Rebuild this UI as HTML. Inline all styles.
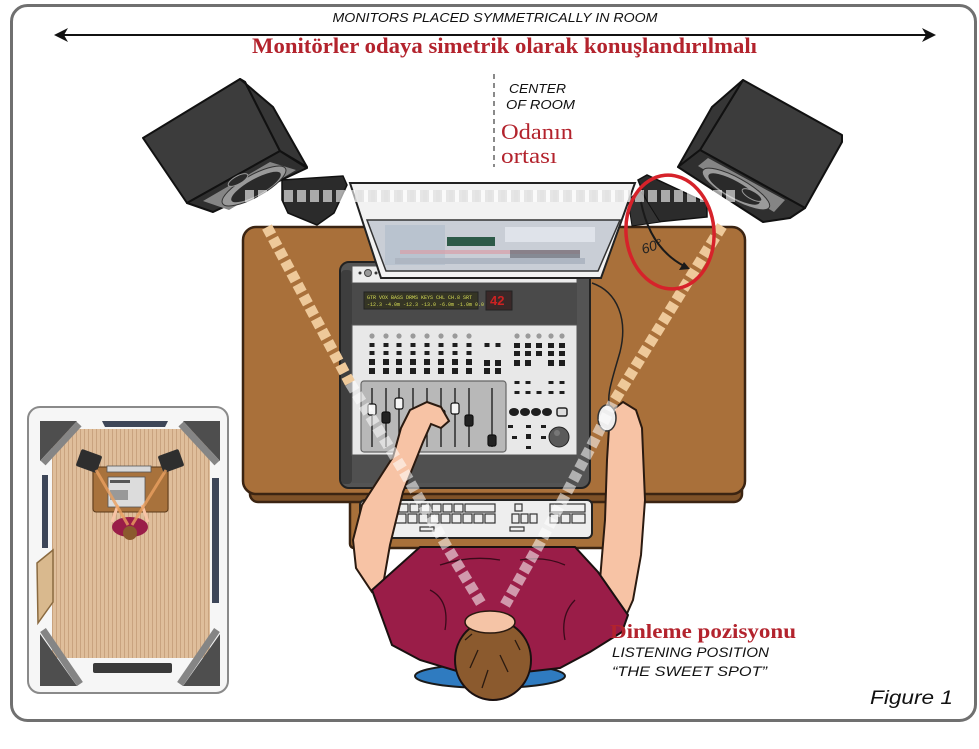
<!DOCTYPE html>
<html><head><meta charset="utf-8"><style>
html,body{margin:0;padding:0;background:#fff;}
svg{display:block;}
</style></head><body>
<svg width="979" height="749" viewBox="0 0 979 749" xmlns="http://www.w3.org/2000/svg">
<defs>
<pattern id="wood" width="4" height="12" patternUnits="userSpaceOnUse"><rect width="4" height="12" fill="#dfbe9b"/><rect width="1" height="12" fill="#c9a37f"/></pattern>
</defs>
<!-- frame -->
<rect x="11.5" y="5.5" width="964" height="715" rx="16" fill="#fff" stroke="#707070" stroke-width="3"/>

<!-- top header -->
<text x="495" y="22" text-anchor="middle" font-family="Liberation Sans, sans-serif" font-style="italic" font-size="13" textLength="325" lengthAdjust="spacingAndGlyphs" fill="#111">MONITORS PLACED SYMMETRICALLY IN ROOM</text>
<line x1="62" y1="35" x2="928" y2="35" stroke="#111" stroke-width="2"/>
<polygon points="54,35 68,28 64,35 68,42" fill="#111"/>
<polygon points="936,35 922,28 926,35 922,42" fill="#111"/>
<text x="252" y="53" font-family="Liberation Serif, serif" font-weight="bold" font-size="22" textLength="505" lengthAdjust="spacingAndGlyphs" fill="#b3232d">Monitörler odaya simetrik olarak konuşlandırılmalı</text>

<!-- center of room -->
<line x1="494" y1="74" x2="494" y2="167" stroke="#8a8a8a" stroke-width="2" stroke-dasharray="5 4"/>
<text x="509" y="93" font-family="Liberation Sans, sans-serif" font-style="italic" font-size="13" textLength="57" lengthAdjust="spacingAndGlyphs" fill="#111">CENTER</text>
<text x="506" y="109" font-family="Liberation Sans, sans-serif" font-style="italic" font-size="13" textLength="69" lengthAdjust="spacingAndGlyphs" fill="#111">OF ROOM</text>
<text x="501" y="139" font-family="Liberation Serif, serif" font-size="22" textLength="72" lengthAdjust="spacingAndGlyphs" fill="#b3232d">Odanın</text>
<text x="501" y="163" font-family="Liberation Serif, serif" font-size="22" textLength="56" lengthAdjust="spacingAndGlyphs" fill="#b3232d">ortası</text>

<!-- keyboard tray -->
<rect x="350" y="485" width="262" height="63" rx="4" fill="#a8703a" stroke="#3b2412" stroke-width="2.5"/>
<!-- desk -->
<rect x="250" y="480" width="492" height="22" rx="8" fill="#7f5228" stroke="#3b2412" stroke-width="2.5"/>
<rect x="243" y="227" width="502" height="267" rx="13" fill="#a9703a" stroke="#3b2412" stroke-width="2.5"/>

<!-- left speaker stand -->
<polygon points="282,180 343,176 347,185 334,213 317,225 288,213 282,200" fill="#2b2b2b" stroke="#111" stroke-width="1.5"/>
<!-- left speaker -->
<polygon points="143,138 240,79 245,82 280,151 187,203" fill="#3c3c3c" stroke="#111" stroke-width="2" stroke-linejoin="round"/>
<polygon points="240,79 273,107 307,167 280,151 245,82" fill="#363636" stroke="#111" stroke-width="2" stroke-linejoin="round"/>
<polygon points="187,203 280,151 307,168 213,212" fill="#2f2f2f" stroke="#111" stroke-width="2" stroke-linejoin="round"/>
<polygon points="203,201 270,162 296,170 229,210" fill="#858585"/>
<ellipse cx="254" cy="186" rx="36" ry="11" transform="rotate(-29 254 186)" fill="#9a9a9a" stroke="#333" stroke-width="1"/>
<ellipse cx="256" cy="187" rx="28" ry="8" transform="rotate(-29 256 187)" fill="#2a2a2a"/>
<ellipse cx="238" cy="180" rx="11" ry="4" transform="rotate(-29 238 180)" fill="#2a2a2a" stroke="#999" stroke-width="1"/>

<!-- right speaker stand -->
<polygon points="638,180 647,175 707,203 707,217 657,222 650,210" fill="#2b2b2b" stroke="#111" stroke-width="1.5"/>
<polygon points="628,200 640,190 660,222 632,226" fill="#333" stroke="#111" stroke-width="1"/>
<!-- right speaker -->
<polygon points="743,80 842,135 842,142 805,208 700,150" fill="#3c3c3c" stroke="#111" stroke-width="2" stroke-linejoin="round"/>
<polygon points="743,80 712,107 678,167 700,150" fill="#363636" stroke="#111" stroke-width="2" stroke-linejoin="round"/>
<polygon points="700,150 805,208 790,218 763,222 678,167" fill="#2f2f2f" stroke="#111" stroke-width="2" stroke-linejoin="round"/>
<polygon points="698,166 708,158 785,200 774,212" fill="#858585"/>
<ellipse cx="736" cy="189" rx="38" ry="11" transform="rotate(29 736 189)" fill="#9a9a9a" stroke="#333" stroke-width="1"/>
<ellipse cx="734" cy="189" rx="29" ry="8" transform="rotate(29 734 189)" fill="#2a2a2a"/>
<ellipse cx="752" cy="195" rx="11" ry="4" transform="rotate(29 752 195)" fill="#2a2a2a" stroke="#999" stroke-width="1"/>

<!-- console -->
<rect x="340" y="262" width="250" height="226" rx="9" fill="#545454" stroke="#222" stroke-width="2"/>
<rect x="341" y="270" width="11" height="214" rx="4" fill="#3e3e3e"/>
<rect x="352" y="266" width="225" height="17" fill="#ececec" stroke="#555" stroke-width="1"/>
<circle cx="368" cy="273" r="3.5" fill="#999" stroke="#444"/>
<circle cx="360" cy="273" r="1.5" fill="#333"/><circle cx="376" cy="273" r="1.5" fill="#333"/>
<rect x="352" y="283" width="225" height="42" fill="#4a4a4a"/>
<rect x="364" y="292" width="114" height="17" fill="#353525" stroke="#222"/>
<text x="367" y="299" font-family="Liberation Mono, monospace" font-size="5" fill="#d6dc55">GTR VOX BASS DRMS KEYS CHL CH.8 SRT</text>
<text x="367" y="306" font-family="Liberation Mono, monospace" font-size="5" fill="#d6dc55">-12.3 -4.0m -12.3 -13.0 -6.0m -1.0m 0.0 -4.0m</text>
<rect x="486" y="291" width="26" height="19" fill="#3a2828" stroke="#222"/>
<text x="490" y="305" font-family="Liberation Sans, sans-serif" font-weight="bold" font-size="13" fill="#c22">42</text>
<rect x="352" y="325" width="225" height="130" fill="#e8e8e8" stroke="#555" stroke-width="1"/>
<g fill="#9a9a9a">
<circle cx="372" cy="336" r="2.6"/><circle cx="386" cy="336" r="2.6"/><circle cx="399" cy="336" r="2.6"/><circle cx="413" cy="336" r="2.6"/><circle cx="427" cy="336" r="2.6"/><circle cx="441" cy="336" r="2.6"/><circle cx="455" cy="336" r="2.6"/><circle cx="469" cy="336" r="2.6"/>
<circle cx="517" cy="336" r="2.6"/><circle cx="528" cy="336" r="2.6"/><circle cx="539" cy="336" r="2.6"/><circle cx="551" cy="336" r="2.6"/><circle cx="562" cy="336" r="2.6"/>
</g>
<g fill="#1e1e1e">
<rect x="369.5" y="343" width="5" height="4"/><rect x="383.5" y="343" width="5" height="4"/><rect x="396.5" y="343" width="5" height="4"/><rect x="410.5" y="343" width="5" height="4"/><rect x="424.5" y="343" width="5" height="4"/><rect x="438.5" y="343" width="5" height="4"/><rect x="452.5" y="343" width="5" height="4"/><rect x="466.5" y="343" width="5" height="4"/>
<rect x="369.5" y="351" width="5" height="4"/><rect x="383.5" y="351" width="5" height="4"/><rect x="396.5" y="351" width="5" height="4"/><rect x="410.5" y="351" width="5" height="4"/><rect x="424.5" y="351" width="5" height="4"/><rect x="438.5" y="351" width="5" height="4"/><rect x="452.5" y="351" width="5" height="4"/><rect x="466.5" y="351" width="5" height="4"/>
<rect x="369" y="359" width="6" height="6"/><rect x="383" y="359" width="6" height="6"/><rect x="396" y="359" width="6" height="6"/><rect x="410" y="359" width="6" height="6"/><rect x="424" y="359" width="6" height="6"/><rect x="438" y="359" width="6" height="6"/><rect x="452" y="359" width="6" height="6"/><rect x="466" y="359" width="6" height="6"/>
<rect x="369" y="368" width="6" height="6"/><rect x="383" y="368" width="6" height="6"/><rect x="396" y="368" width="6" height="6"/><rect x="410" y="368" width="6" height="6"/><rect x="424" y="368" width="6" height="6"/><rect x="438" y="368" width="6" height="6"/><rect x="452" y="368" width="6" height="6"/><rect x="466" y="368" width="6" height="6"/>
<rect x="484.5" y="343" width="5" height="4"/><rect x="495.5" y="343" width="5" height="4"/>
<rect x="484" y="360" width="6" height="6"/><rect x="495" y="360" width="6" height="6"/><rect x="484" y="368" width="6" height="6"/><rect x="495" y="368" width="6" height="6"/>
<rect x="514" y="343" width="6" height="5"/><rect x="525" y="343" width="6" height="5"/><rect x="536" y="343" width="6" height="5"/><rect x="548" y="343" width="6" height="5"/><rect x="559" y="343" width="6" height="5"/>
<rect x="514" y="351" width="6" height="5"/><rect x="525" y="351" width="6" height="5"/><rect x="536" y="351" width="6" height="5"/><rect x="548" y="351" width="6" height="5"/><rect x="559" y="351" width="6" height="5"/>
<rect x="514" y="360" width="6" height="6"/><rect x="525" y="360" width="6" height="6"/><rect x="548" y="360" width="6" height="6"/><rect x="559" y="360" width="6" height="6"/>
<rect x="514.5" y="381" width="5" height="3"/><rect x="525.5" y="381" width="5" height="3"/><rect x="548.5" y="381" width="5" height="3"/><rect x="559.5" y="381" width="5" height="3"/>
<rect x="514.5" y="391" width="5" height="3"/><rect x="525.5" y="391" width="5" height="3"/><rect x="536.5" y="391" width="5" height="3"/><rect x="548.5" y="391" width="5" height="3"/><rect x="559.5" y="391" width="5" height="3"/>
<ellipse cx="514" cy="412" rx="5" ry="4"/><ellipse cx="525" cy="412" rx="5" ry="4"/><ellipse cx="536" cy="412" rx="5" ry="4"/><ellipse cx="547" cy="412" rx="5" ry="4"/>
<rect x="508" y="425" width="5" height="3"/><rect x="526" y="425" width="5" height="3"/><rect x="541" y="425" width="5" height="3"/>
<rect x="512" y="436" width="5" height="3"/><rect x="526" y="434" width="5" height="5"/><rect x="541" y="436" width="5" height="3"/>
<rect x="526" y="446" width="5" height="3"/>
</g>
<rect x="557" y="408" width="10" height="8" rx="2" fill="#ddd" stroke="#222" stroke-width="1.5"/>
<circle cx="559" cy="437" r="10" fill="#5a5a5a" stroke="#222" stroke-width="1"/>
<circle cx="557" cy="433" r="3" fill="#777"/>
<!-- fader tray -->
<rect x="361" y="381" width="145" height="71" rx="3" fill="#b8b8b8" stroke="#666" stroke-width="1.2"/>
<g stroke="#222" stroke-width="1.4">
<line x1="372" y1="388" x2="372" y2="447"/><line x1="386" y1="388" x2="386" y2="447"/><line x1="399" y1="388" x2="399" y2="447"/><line x1="413" y1="388" x2="413" y2="447"/><line x1="427" y1="388" x2="427" y2="447"/><line x1="441" y1="388" x2="441" y2="447"/><line x1="455" y1="388" x2="455" y2="447"/><line x1="469" y1="388" x2="469" y2="447"/><line x1="492" y1="388" x2="492" y2="447"/>
</g>
<g fill="#f4f4f4" stroke="#111" stroke-width="1.2">
<rect x="368" y="404" width="8" height="11" rx="2"/><rect x="382" y="412" width="8" height="11" rx="2" fill="#222"/><rect x="395" y="398" width="8" height="11" rx="2"/><rect x="437" y="410" width="8" height="11" rx="2"/><rect x="451" y="403" width="8" height="11" rx="2"/><rect x="465" y="415" width="8" height="11" rx="2" fill="#222"/><rect x="488" y="435" width="8" height="11" rx="2" fill="#222"/>
</g>
<rect x="352" y="455" width="225" height="28" fill="#505050"/>

<!-- monitor -->
<polygon points="350,183 635,183 601,278 381,278" fill="#f2f2f2" stroke="#222" stroke-width="2"/>
<polygon points="367,220 620,220 598,271 386,271" fill="#c9ced6" stroke="#333" stroke-width="1.5"/>
<rect x="385" y="225" width="60" height="40" fill="#b9c3cf"/>
<rect x="447" y="237" width="48" height="9" fill="#2d5a48"/>
<rect x="400" y="250" width="180" height="4" fill="#d9a0a8" opacity="0.7"/>
<rect x="505" y="227" width="90" height="15" fill="#dfe3ea"/>
<rect x="510" y="250" width="70" height="8" fill="#6a6e78" opacity="0.7"/>
<rect x="395" y="258" width="190" height="6" fill="#aeb6c2"/>

<!-- keyboard -->
<rect x="360" y="500" width="232" height="38" rx="5" fill="#eeeeee" stroke="#222" stroke-width="2"/>
<g fill="none" stroke="#333" stroke-width="1.2">
<rect x="366" y="504" width="9" height="8"/><rect x="377" y="504" width="9" height="8"/><rect x="388" y="504" width="9" height="8"/><rect x="399" y="504" width="9" height="8"/><rect x="410" y="504" width="9" height="8"/><rect x="421" y="504" width="9" height="8"/><rect x="432" y="504" width="9" height="8"/><rect x="443" y="504" width="9" height="8"/><rect x="454" y="504" width="9" height="8"/><rect x="465" y="504" width="30" height="8"/>
<rect x="366" y="514" width="40" height="9"/><rect x="408" y="514" width="9" height="9"/><rect x="419" y="514" width="9" height="9"/><rect x="430" y="514" width="9" height="9"/><rect x="441" y="514" width="9" height="9"/><rect x="452" y="514" width="9" height="9"/><rect x="463" y="514" width="9" height="9"/><rect x="474" y="514" width="9" height="9"/><rect x="485" y="514" width="10" height="9"/>
<rect x="515" y="504" width="7" height="7"/><rect x="512" y="514" width="7" height="9"/><rect x="521" y="514" width="7" height="9"/><rect x="530" y="514" width="7" height="9"/>
<rect x="550" y="504" width="35" height="8"/><rect x="550" y="514" width="9" height="9"/><rect x="561" y="514" width="9" height="9"/><rect x="572" y="514" width="13" height="9"/>
<rect x="420" y="527" width="14" height="4"/><rect x="510" y="527" width="14" height="4"/>
</g>

<!-- mouse cable -->
<path d="M592 283 C618 292 628 320 620 352 C612 380 606 396 610 408" fill="none" stroke="#222" stroke-width="1.5"/>

<!-- chair -->
<ellipse cx="490" cy="676" rx="75" ry="12" fill="#2f7bc0" stroke="#1a1a1a" stroke-width="2"/>
<!-- arms -->
<path d="M410 410 L427 402 L441 407 L449 421 L441 428 L431 424 L423 442 L403 492 L390 545 L383 585 L372 592 L356 568 L353 540 L362 505 L393 457 L401 428 Z" fill="#f7c3a5" stroke="#2a1a10" stroke-width="2"/>
<path d="M610 412 L623 402 L636 410 L642 428 L645 500 L641 555 L633 600 L625 618 L600 580 L605 520 L607 460 Z" fill="#f7c3a5" stroke="#2a1a10" stroke-width="2"/>
<ellipse cx="607" cy="418" rx="9" ry="13" fill="#eee" stroke="#333" stroke-width="1.5"/>
<!-- shirt -->
<path d="M372 590 L420 547 L575 547 L598 572 L628 615 L622 632 L590 652 L560 668 L525 672 L460 672 L420 660 L392 645 Z" fill="#9a1d48" stroke="#1a1010" stroke-width="2"/>
<g fill="none" stroke="#3a0a1a" stroke-width="1.3">
<path d="M440 565 Q470 555 500 560"/><path d="M520 560 Q545 556 565 565"/><path d="M430 590 Q450 600 445 630"/><path d="M575 600 Q560 615 565 640"/>
</g>
<!-- head -->
<ellipse cx="493" cy="660" rx="38" ry="40" fill="#8b5a2e" stroke="#1a1010" stroke-width="2"/>
<ellipse cx="490" cy="622" rx="25" ry="11" fill="#f5c4a6" stroke="#2a1a10" stroke-width="1.5"/>
<g fill="none" stroke="#2a1a10" stroke-width="1.3">
<path d="M478 650 L470 668"/><path d="M500 655 L508 672"/><path d="M488 670 L482 688"/><path d="M465 640 L472 634"/><path d="M515 640 L520 650"/>
</g>

<!-- beams -->
<polyline points="267,227 350,383" fill="none" stroke="#eec99a" stroke-width="11" stroke-dasharray="9 4"/>
<polyline points="350,383 403,470 447,547 482,605" fill="none" stroke="#ffffff" stroke-opacity="0.55" stroke-width="11" stroke-dasharray="9 4"/>
<polyline points="722,226 613,403" fill="none" stroke="#eec99a" stroke-width="11" stroke-dasharray="9 4"/>
<polyline points="613,403 593,443 540,543 505,605" fill="none" stroke="#ffffff" stroke-opacity="0.55" stroke-width="11" stroke-dasharray="9 4"/>
<line x1="245" y1="196" x2="735" y2="196" stroke="#ffffff" stroke-opacity="0.6" stroke-width="12" stroke-dasharray="9 4"/>
<line x1="355" y1="196" x2="630" y2="196" stroke="#d8d8d8" stroke-opacity="0.6" stroke-width="12" stroke-dasharray="9 4"/>

<!-- 60 degree -->
<path d="M641 202 Q650 248 684 266" fill="none" stroke="#1a1a1a" stroke-width="2"/>
<polygon points="690,269 679,270 684,262" fill="#1a1a1a"/>
<text x="641" y="250" font-family="Liberation Sans, sans-serif" font-style="italic" font-size="14" fill="#222" transform="rotate(-18 655 245)">60°</text>
<ellipse cx="670" cy="232" rx="44" ry="57" transform="rotate(-5 670 232)" fill="none" stroke="#d6222a" stroke-width="3.5"/>

<!-- listening labels -->
<text x="610" y="638" font-family="Liberation Serif, serif" font-weight="bold" font-size="20" textLength="186" lengthAdjust="spacingAndGlyphs" fill="#b3232d">Dinleme pozisyonu</text>
<text x="612" y="657" font-family="Liberation Sans, sans-serif" font-style="italic" font-size="13.5" textLength="157" lengthAdjust="spacingAndGlyphs" fill="#111">LISTENING POSITION</text>
<text x="612" y="676" font-family="Liberation Sans, sans-serif" font-style="italic" font-size="13.5" textLength="155" lengthAdjust="spacingAndGlyphs" fill="#111">“THE SWEET SPOT”</text>
<text x="870" y="704" font-family="Liberation Sans, sans-serif" font-style="italic" font-size="19" textLength="83" lengthAdjust="spacingAndGlyphs" fill="#111">Figure 1</text>

<!-- inset -->
<rect x="28" y="407" width="200" height="286" rx="12" fill="#f6f6f6" stroke="#8a8a8a" stroke-width="2"/>
<rect x="52" y="429" width="158" height="229" fill="url(#wood)"/>
<polygon points="40,421 77,421 40,461" fill="#4e4e4e"/>
<line x1="79" y1="424" x2="43" y2="463" stroke="#858585" stroke-width="7"/>
<polygon points="220,421 183,421 220,461" fill="#4e4e4e"/>
<line x1="181" y1="424" x2="217" y2="463" stroke="#858585" stroke-width="7"/>
<polygon points="40,686 77,686 40,634" fill="#4e4e4e"/>
<line x1="80" y1="684" x2="43" y2="630" stroke="#858585" stroke-width="7"/>
<polygon points="220,686 183,686 220,634" fill="#4e4e4e"/>
<line x1="180" y1="684" x2="217" y2="630" stroke="#858585" stroke-width="7"/>
<polygon points="102,421 168,421 165,427 105,427" fill="#3d4658"/>
<rect x="42" y="475" width="6" height="73" fill="#3d4658"/>
<rect x="212" y="478" width="7" height="125" fill="#3d4658"/>
<polygon points="37,563 53,550 53,602 38,623" fill="#d9b98e" stroke="#8a6a40" stroke-width="1.5"/>
<rect x="93" y="663" width="79" height="10" rx="2" fill="#3a3a3a"/>
<rect x="93" y="467" width="75" height="45" rx="3" fill="#a8723c" stroke="#5a3a1a" stroke-width="1"/>
<rect x="107" y="466" width="44" height="6" fill="#d8d8d8" stroke="#555" stroke-width="0.8"/>
<rect x="108" y="477" width="37" height="30" fill="#dcdcdc" stroke="#555" stroke-width="0.8"/>
<rect x="110" y="480" width="20" height="3" fill="#555"/>
<rect x="110" y="490" width="18" height="10" fill="#999"/>
<rect x="78" y="452" width="22" height="18" rx="2" transform="rotate(20 89 461)" fill="#2e2e2e"/>
<rect x="160" y="452" width="22" height="18" rx="2" transform="rotate(-20 171 461)" fill="#2e2e2e"/>
<line x1="118" y1="505" x2="112" y2="522" stroke="#f7c3a5" stroke-width="3"/>
<line x1="142" y1="505" x2="148" y2="522" stroke="#f7c3a5" stroke-width="3"/>
<ellipse cx="130" cy="527" rx="18" ry="10" fill="#9a1d48"/>
<circle cx="130" cy="533" r="7" fill="#8b5a2e"/>
<line x1="96" y1="470" x2="128" y2="525" stroke="#eaa060" stroke-width="3" stroke-opacity="0.8"/>
<line x1="166" y1="470" x2="132" y2="525" stroke="#eaa060" stroke-width="3" stroke-opacity="0.8"/>
</svg>
</body></html>
